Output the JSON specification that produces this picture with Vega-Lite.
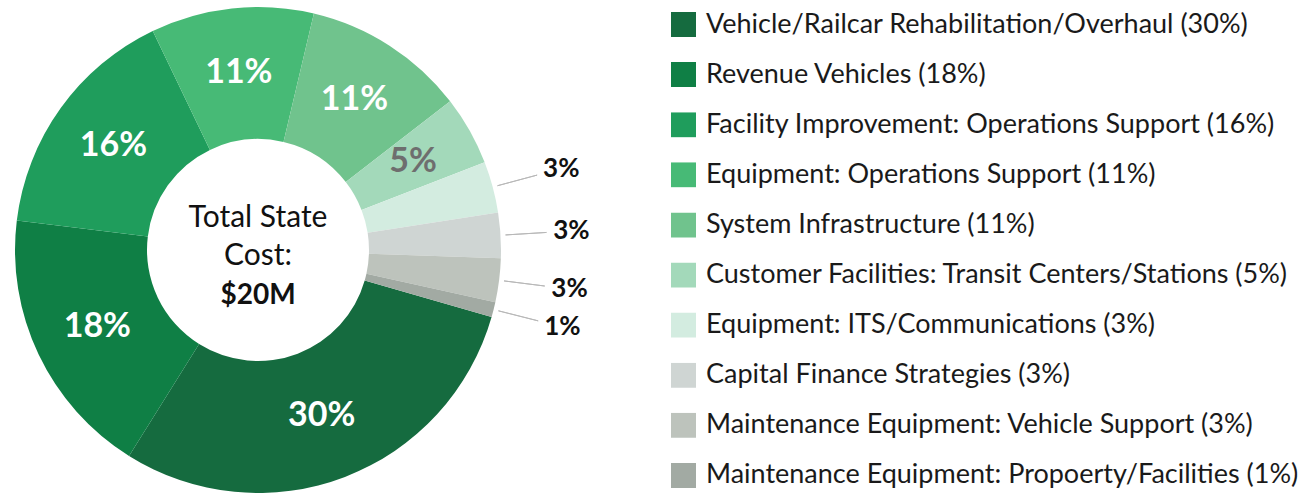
{
  "$schema": "https://vega.github.io/schema/vega-lite/v6.json",
  "width": 516,
  "height": 488,
  "padding": {"top": 6, "left": 0, "right": 793, "bottom": 0},
  "autosize": {"type": "none"},
  "background": "white",
  "config": {
    "view": {"stroke": null},
    "font": "Lato",
    "legend": {
      "orient": "none",
      "legendX": 670,
      "legendY": 6,
      "padding": 0,
      "symbolType": "square",
      "symbolSize": 625,
      "symbolStrokeWidth": 0,
      "labelFont": "Lato",
      "labelFontSize": 27,
      "labelColor": "#1a1a1a",
      "labelOffset": 9,
      "labelLimit": 800,
      "rowPadding": 22.1,
      "clipHeight": 25
    }
  },
  "data": {
    "values": [
      {"idx": 1, "category": "Vehicle/Railcar Rehabilitation/Overhaul (30%)", "value": 29.4, "label": "30%"},
      {"idx": 2, "category": "Revenue Vehicles (18%)", "value": 18.0, "label": "18%"},
      {"idx": 3, "category": "Facility Improvement: Operations Support (16%)", "value": 15.9, "label": "16%"},
      {"idx": 4, "category": "Equipment: Operations Support (11%)", "value": 10.8, "label": "11%"},
      {"idx": 5, "category": "System Infrastructure (11%)", "value": 10.8, "label": "11%"},
      {"idx": 6, "category": "Customer Facilities: Transit Centers/Stations (5%)", "value": 4.6, "label": "5%"},
      {"idx": 7, "category": "Equipment: ITS/Communications  (3%)", "value": 3.4, "label": "3%"},
      {"idx": 8, "category": "Capital Finance Strategies (3%)", "value": 3.0, "label": "3%"},
      {"idx": 9, "category": "Maintenance Equipment: Vehicle Support (3%)", "value": 2.9, "label": "3%"},
      {"idx": 10, "category": "Maintenance Equipment: Propoerty/Facilities (1%)", "value": 1.0, "label": "1%"}
    ]
  },
  "layer": [
    {
      "mark": {"type": "arc", "innerRadius": 111, "outerRadius": 243, "stroke": null},
      "encoding": {
        "theta": {"field": "value", "type": "quantitative", "stack": true, "scale": {"range": [1.85, 8.1332]}},
        "order": {"field": "idx", "type": "quantitative"},
        "color": {
          "field": "category",
          "type": "nominal",
          "sort": null,
          "title": null,
          "scale": {
            "domain": [
              "Vehicle/Railcar Rehabilitation/Overhaul (30%)",
              "Revenue Vehicles (18%)",
              "Facility Improvement: Operations Support (16%)",
              "Equipment: Operations Support (11%)",
              "System Infrastructure (11%)",
              "Customer Facilities: Transit Centers/Stations (5%)",
              "Equipment: ITS/Communications  (3%)",
              "Capital Finance Strategies (3%)",
              "Maintenance Equipment: Vehicle Support (3%)",
              "Maintenance Equipment: Propoerty/Facilities (1%)"
            ],
            "range": ["#156b3f", "#0f7f45", "#1f9d5c", "#47ba76", "#70c38d", "#a3d9ba", "#d3ece0", "#cfd5d3", "#bdc3bc", "#a2aaa3"]
          }
        }
      }
    },
    {
      "mark": {"type": "arc", "innerRadius": 248, "outerRadius": 289, "padAngle": 0.5, "fill": null, "strokeWidth": 1},
      "encoding": {
        "theta": {"field": "value", "type": "quantitative", "stack": true},
        "order": {"field": "idx", "type": "quantitative"},
        "stroke": {"condition": {"test": "datum.value < 4", "value": "#b8b8b8"}, "value": null}
      }
    },
    {
      "mark": {"type": "text", "radius": 178, "fontSize": 34, "fontWeight": "bold", "font": "Lato", "align": "center", "baseline": "middle"},
      "encoding": {
        "theta": {"field": "value", "type": "quantitative", "stack": true},
        "order": {"field": "idx", "type": "quantitative"},
        "text": {"condition": {"test": "datum.value < 4", "value": ""}, "field": "label"},
        "color": {"condition": {"test": "datum.idx == 6", "value": "#6e6e6e"}, "value": "white"}
      }
    },
    {
      "mark": {"type": "text", "radius": 314, "fontSize": 26, "fontWeight": "bold", "font": "Lato", "align": "center", "baseline": "middle", "color": "#111111"},
      "encoding": {
        "theta": {"field": "value", "type": "quantitative", "stack": true},
        "order": {"field": "idx", "type": "quantitative"},
        "text": {"condition": {"test": "datum.value >= 4", "value": ""}, "field": "label"}
      }
    },
    {
      "data": {"values": [{"t": "Total State"}]},
      "mark": {"type": "text", "fontSize": 30, "font": "Lato", "color": "#111111", "align": "center", "baseline": "middle", "dy": -32},
      "encoding": {"text": {"field": "t"}}
    },
    {
      "data": {"values": [{"t": "Cost:"}]},
      "mark": {"type": "text", "fontSize": 30, "font": "Lato", "color": "#111111", "align": "center", "baseline": "middle", "dy": 6},
      "encoding": {"text": {"field": "t"}}
    },
    {
      "data": {"values": [{"t": "$20M"}]},
      "mark": {"type": "text", "fontSize": 28, "fontWeight": "bold", "font": "Lato", "color": "#111111", "align": "center", "baseline": "middle", "dy": 46},
      "encoding": {"text": {"field": "t"}}
    }
  ]
}
